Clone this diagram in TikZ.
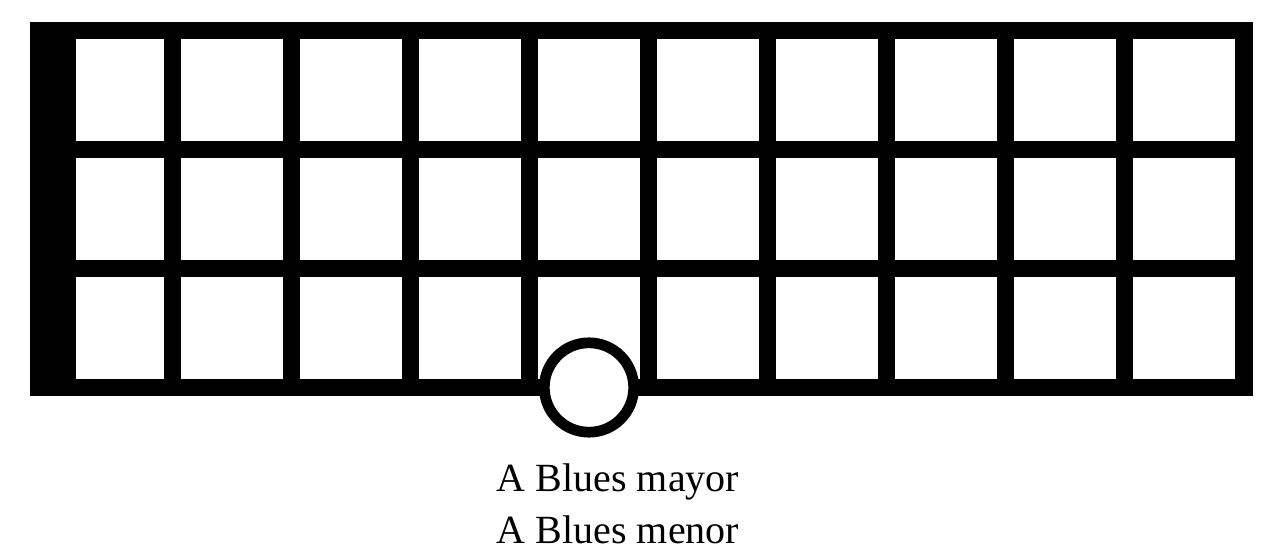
\documentclass[tikz,border=0pt]{standalone}
\usepackage{fontspec}
\setmainfont{Liberation Serif}
\usetikzlibrary{positioning}
\tikzstyle{every node}=[line width=1pt]

\begin{document}
\begin{tikzpicture}[x=1pt,y=1pt]
          \tikzstyle{board} = [fill=black]
          \tikzstyle{cell} = [fill=white]
          \tikzstyle{dnode} = [circle, draw=black, fill=white, line width=10.7pt, inner sep=0pt, minimum size=89.4pt]
          \tikzstyle{lnode} = [inner sep=0pt, anchor=base, font=\fontsize{40}{51.5}\selectfont]
          \useasboundingbox (0,0) rectangle (1280,557);
          \fill[board] (30,161) rectangle (1253,535);
          % first fret, next to the nut
          \foreach \r in {0,1,2}
            \fill[cell] (76,{416-119*\r}) rectangle (164,{518-119*\r});
          \foreach \c in {0,...,8}
            \foreach \r in {0,1,2}
              \fill[cell] ({181+119*\c},{416-119*\r}) rectangle ({283+119*\c},{518-119*\r});
          \node[dnode] (dot) at (589,169.5) {};
          \node[lnode] (may) at (618,65.3) {A Blues mayor};
          \node[lnode, below = 51.5pt of may.base, anchor=base] (men) {A Blues menor};
        \end{tikzpicture}
\end{document}
